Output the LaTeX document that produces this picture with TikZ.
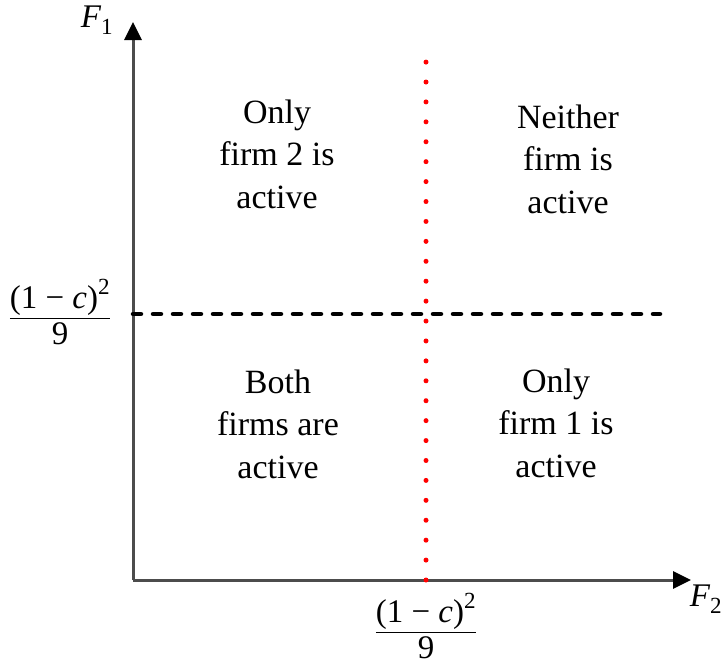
\documentclass[tikz,border=0pt]{standalone}
\usepackage{amsmath}
\usepackage{fontspec}
\setmainfont{Liberation Serif}
\usetikzlibrary{arrows.meta}
\begin{document}
\begin{tikzpicture}[x=1pt,y=-1pt,
  every node/.style={inner sep=0pt,outer sep=0pt},
  region/.style={align=center,font=\fontsize{34}{42.5}\selectfont},
  mathlab/.style={font=\fontsize{33}{40}\selectfont},
  axis/.style={line width=3pt,draw=black!70,-{Triangle[length=18pt,width=17pt,color=black]}},
  threshold/.style={line width=4.5pt,line cap=round,dash pattern=on 8pt off 12pt},
  redline/.style={line width=5pt,draw=red,line cap=round,dash pattern=on 0pt off 19.92pt}]
\useasboundingbox (0,0) rectangle (726,665);
\coordinate (O) at (133,580);
\coordinate (ytop) at (133,22);
\coordinate (xend) at (691,580);
\coordinate (hl) at (133,314);
\coordinate (hr) at (660,314);
\coordinate (vb) at (426,580);
\coordinate (vt) at (426,62);
\draw[axis] (O) -- (ytop);
\draw[axis] (O) -- (xend);
\draw[threshold] (hl) -- (hr);
\draw[redline] (vb) -- (vt);
\node[mathlab] (F1) at (97,20) {$\textit{F}_{\text{1}}$};
\node[mathlab] (F2) at (706,599) {$\textit{F}_{\text{2}}$};
\node[mathlab,anchor=center] (yth) at (60,312) {$\dfrac{\text{(1 − \textit{c})}^{\text{2}}}{\text{9}}$};
\node[mathlab,anchor=center] (xth) at (426,626) {$\dfrac{\text{(1 − \textit{c})}^{\text{2}}}{\text{9}}$};
\node[region] (tl) at (277,154) {Only\\firm 2 is\\active};
\node[region] (tr) at (568,159) {Neither\\firm is\\active};
\node[region] (bl) at (278,424) {Both\\firms are\\active};
\node[region] (br) at (556,423) {Only\\firm 1 is\\active};
\end{tikzpicture}
\end{document}
